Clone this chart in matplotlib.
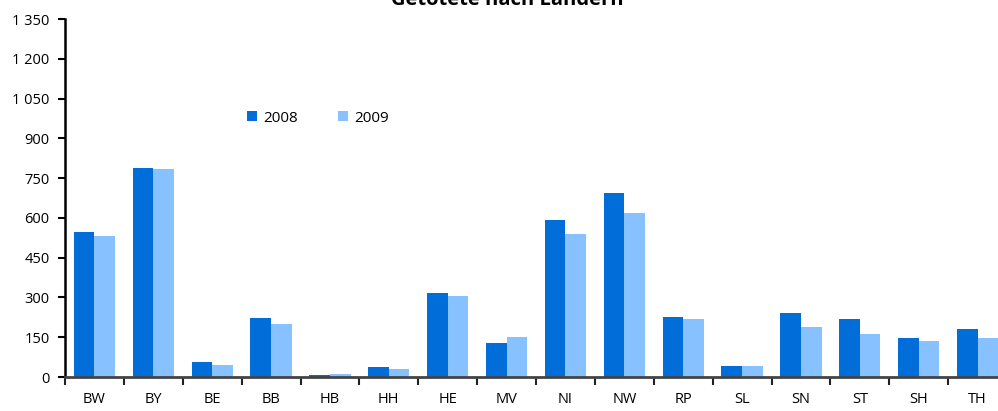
import numpy as np
import matplotlib
matplotlib.use("Agg")
import matplotlib.pyplot as plt
from matplotlib.patches import Patch
from matplotlib.ticker import FuncFormatter, FixedLocator

# ── Data ──────────────────────────────────────────────────────────────────────
laender = ["BW", "BY", "BE", "BB", "HB", "HH", "HE", "MV",
           "NI", "NW", "RP", "SL", "SN", "ST", "SH", "TH"]
werte_2008 = [547, 790, 55, 221, 7, 37, 318, 130, 591, 692, 225, 42, 242, 220, 148, 182]
werte_2009 = [532, 784, 46, 200, 11, 30, 306, 151, 539, 619, 219, 41, 189, 162, 136, 147]
y_ticks = np.arange(0, 1351, 150)

C_2008 = "#006dd9"
C_2009 = "#87c1ff"

plt.rcParams["font.family"] = ["Open Sans", "DejaVu Sans"]

W, H = 998, 411
fig = plt.figure(figsize=(W / 100, H / 100), dpi=100)
# axes run past the right edge, like the clipped original
ax = fig.add_axes([65 / W, 1 - 377 / H, 942 / W, 358 / H])

x = np.arange(len(laender))
bw = 0.35
ax.bar(x - bw / 2, werte_2008, width=bw, color=C_2008, label="2008")
ax.bar(x + bw / 2, werte_2009, width=bw, color=C_2009, label="2009")

ax.set_xlim(-0.5, len(laender) - 0.5)
ax.set_ylim(0, 1350)
ax.set_yticks(y_ticks)
ax.yaxis.set_major_formatter(FuncFormatter(lambda v, p: f"{int(v):,}".replace(",", " ")))

# ticks at category borders, labels in the middle
ax.xaxis.set_major_locator(FixedLocator(np.arange(-0.5, len(laender), 1)))
ax.xaxis.set_major_formatter(FuncFormatter(lambda v, p: ""))
ax.set_xticks(x, minor=True)
ax.set_xticklabels(laender, minor=True)
ax.tick_params(axis="x", which="minor", length=0, pad=11, labelsize=10.5)
ax.tick_params(axis="x", which="major", length=6, width=1.5, color="#222222")
ax.tick_params(axis="y", length=5, width=1.5, labelsize=10.5, pad=6)

ax.spines[["top", "right"]].set_visible(False)
ax.spines["left"].set_linewidth(1.8)
ax.spines["bottom"].set_linewidth(2)
ax.spines["bottom"].set_color("#444444")

# title sits partly above the top edge, as in the original
fig.text(507 / W, 1 - 5 / H, "Getötete nach Ländern", ha="center", va="baseline",
         fontsize=14.5, fontweight="bold")

handles = [Patch(facecolor=C_2008, label="2008"), Patch(facecolor=C_2009, label="2009")]
fig.legend(handles=handles, loc="center", bbox_to_anchor=(318 / W, 1 - 118 / H), ncol=2,
           frameon=False, fontsize=11, handlelength=0.7, handleheight=0.7,
           handletextpad=0.4, columnspacing=2.6)

fig.savefig("out.png", dpi=100)
